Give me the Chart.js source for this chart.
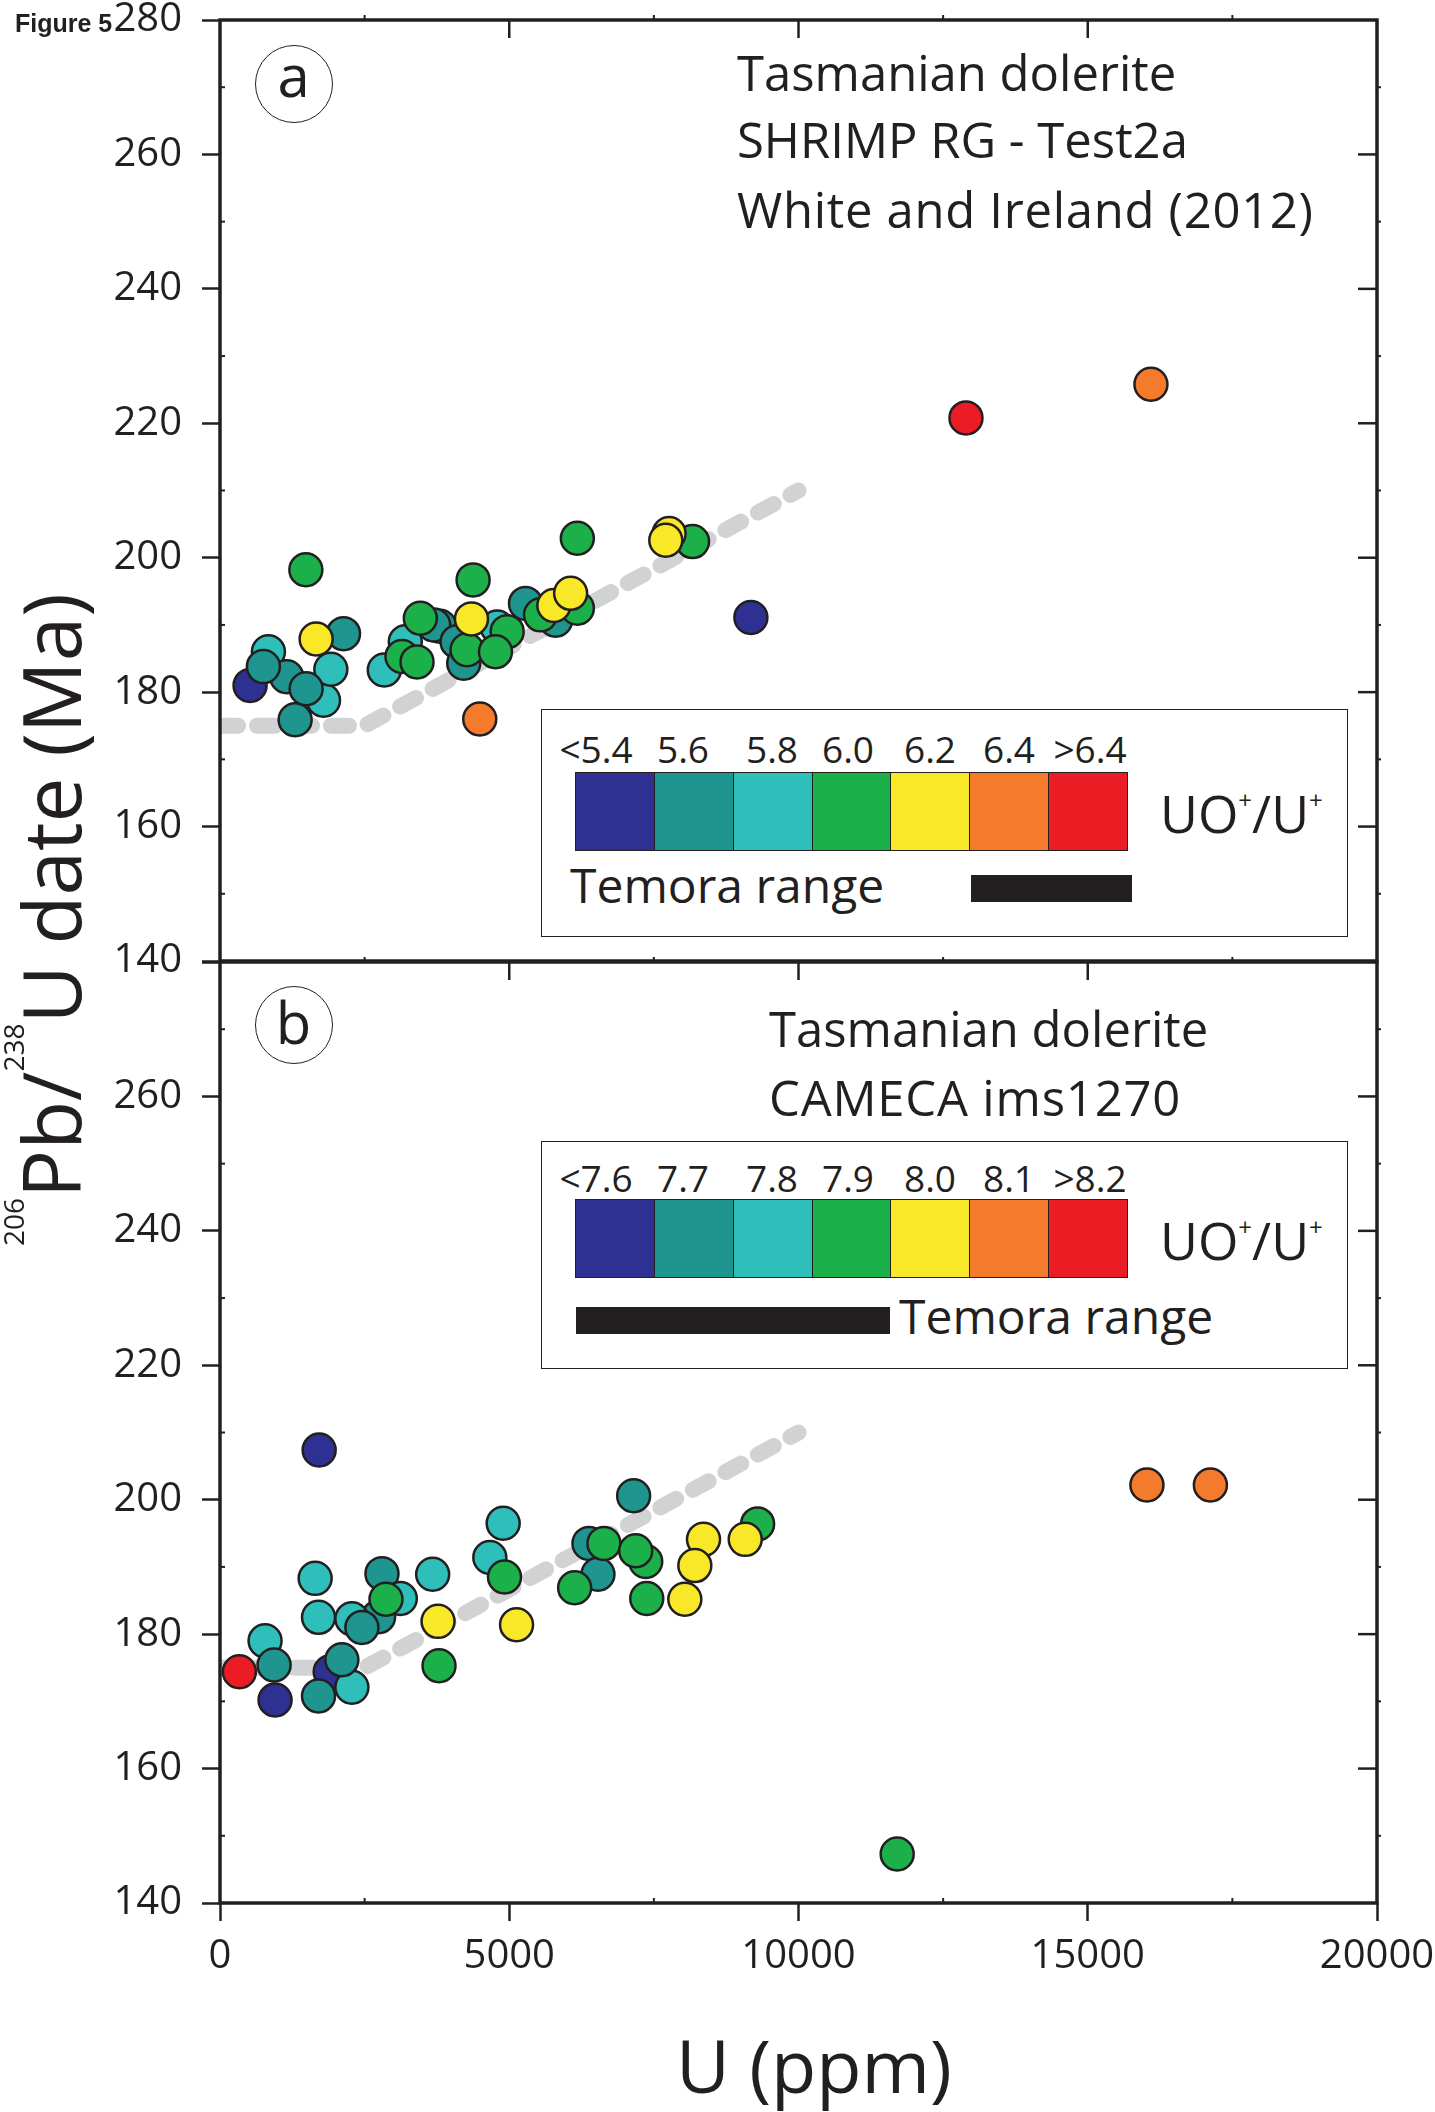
<!DOCTYPE html>
<html>
<head>
<meta charset="utf-8">
<script src="https://cdn.jsdelivr.net/npm/chart.js@4.4.0/dist/chart.umd.min.js"></script>
<style>
html,body{margin:0;padding:0;background:#fff;}
#wrap{position:relative;width:1435px;height:2112px;overflow:hidden;font-family:"Open Sans",sans-serif;color:#231F20;}
canvas{position:absolute;left:0;}
.t{position:absolute;line-height:1;white-space:nowrap;}
.box{position:absolute;box-sizing:border-box;}
</style>
</head>
<body>
<div id="wrap">
<canvas id="ca" width="1435" height="1000" style="top:0;width:1435px;height:1000px"></canvas>
<canvas id="cb" width="1435" height="1170" style="top:942px;width:1435px;height:1170px"></canvas>
</div>
<script>
// ---------- data ----------
// UO+/U+ class index: 0 lowest ... 6 highest
const classLabelsA = ['<5.4','5.6','5.8','6.0','6.2','6.4','>6.4'];
const classLabelsB = ['<7.6','7.7','7.8','7.9','8.0','8.1','>8.2'];

// Panel a : SHRIMP RG - Test2a
const aU   = [520, 837, 1154, 750, 1299, 1789, 2135, 1916, 1489, 1662, 1484, 2840, 3203, 3146, 3406, 3800, 3694, 3463, 4375, 4098, 4213, 4271, 4791, 4964, 4762, 4347, 5281, 5801, 5541, 6177, 5771, 6061, 6177, 8168, 7763, 7706, 9177, 4490, 12895, 16092];
const aAge = [181.0, 186.0, 182.3, 183.8, 175.9, 178.8, 188.7, 183.4, 180.5, 187.9, 198.2, 183.3, 187.5, 185.3, 184.5, 189.8, 190.0, 191.0, 196.7, 187.5, 184.3, 186.3, 189.7, 189.0, 186.0, 190.9, 193.2, 190.7, 191.5, 192.5, 192.9, 194.7, 202.9, 202.4, 203.6, 202.6, 191.1, 176.0, 220.8, 225.8];
const aClass = [0, 2, 1, 1, 1, 2, 1, 2, 1, 4, 3, 2, 2, 3, 3, 1, 1, 3, 3, 1, 1, 3, 2, 3, 3, 4, 1, 1, 3, 3, 4, 4, 3, 3, 4, 4, 0, 5, 6, 5];

// Panel b : CAMECA ims1270
const bU   = [335, 779, 952, 935, 1905, 2280, 1703, 2107, 1714, 1645, 1703, 2800, 3117, 2742, 2280, 2453, 2869, 3676, 3769, 3786, 4895, 4664, 4918, 5126, 6378, 6533, 6637, 6130, 7150, 7359, 7186, 7377, 8358, 8208, 8035, 9293, 9079, 11706, 16023, 17120];
const bAge = [174.4, 179.0, 170.2, 175.4, 174.4, 172.1, 170.8, 176.2, 207.4, 188.3, 182.5, 189.0, 185.3, 182.6, 182.3, 181.0, 185.2, 188.9, 181.9, 175.3, 196.5, 191.4, 188.5, 181.4, 193.5, 188.9, 193.5, 186.9, 200.6, 190.8, 192.4, 185.3, 194.1, 190.2, 185.2, 196.4, 194.1, 147.3, 202.2, 202.2];
const bClass = [6, 2, 0, 1, 0, 2, 1, 1, 0, 2, 2, 1, 2, 1, 2, 1, 3, 2, 4, 3, 2, 2, 3, 4, 1, 1, 3, 3, 1, 3, 3, 3, 4, 4, 4, 3, 4, 3, 5, 5];

// grey dashed reference trend
const trendU   = [0, 2500, 10000];
const trendAge = [175, 175, 210];

// axis ticks
const ageMajor = [140, 160, 180, 200, 220, 240, 260, 280];
const ageMinor = [150, 170, 190, 210, 230, 250, 270];
const uMajor = [0, 5000, 10000, 15000, 20000];
const uMinor = [2500, 7500, 12500, 17500];

// ---------- styles ----------
const PALETTE = ['#2E3192','#1F9590','#2FBFBA','#1CB04B','#F8E828','#F47B2B','#EC1C24'];
const INK = '#231F20';

const framePlugin = {
  id: 'frame',
  afterDraw(chart) {
    const {ctx, chartArea, scales} = chart;
    const {left, right, top, bottom} = chartArea;
    const x = scales.x, y = scales.y;
    const isB = chart.canvas.id === 'cb';
    ctx.save();
    ctx.strokeStyle = INK;
    ctx.lineCap = 'butt';
    const line = (x1, y1, x2, y2) => { ctx.beginPath(); ctx.moveTo(x1, y1); ctx.lineTo(x2, y2); ctx.stroke(); };
    ctx.lineWidth = 2.5;
    for (const v of ageMajor) {
      if (v > 140 && v < 280) { const py = y.getPixelForValue(v); line(right, py, right - 19, py); }
    }
    ctx.lineWidth = 2;
    for (const v of ageMinor) {
      const py = y.getPixelForValue(v);
      line(left, py, left + 5, py);
      line(right, py, right + 4, py);
    }
    ctx.lineWidth = 2.5;
    for (const u of uMajor) {
      if (u > 0 && u < 20000) { const px = x.getPixelForValue(u); line(px, top, px, top + 18); }
    }
    ctx.lineWidth = 2;
    for (const u of uMinor) {
      const px = x.getPixelForValue(u);
      line(px, top, px, top - 5);
      if (isB) line(px, bottom, px, bottom - 5);
    }
    ctx.lineWidth = 3.5;
    ctx.strokeRect(left, top, right - left, bottom - top);
    ctx.restore();
  }
};

function makePanel(id, U, Age, Cls, showX, hideTop) {
  const pts = U.map((u, i) => ({x: u, y: Age[i]}));
  const trend = trendU.map((u, i) => ({x: u, y: trendAge[i]}));
  return new Chart(document.getElementById(id), {
    type: 'scatter',
    data: {
      datasets: [
        {type: 'scatter', data: pts, order: 1, pointRadius: 16.5, pointHoverRadius: 16.5,
         pointBackgroundColor: Cls.map(c => PALETTE[c]), pointBorderColor: INK, pointBorderWidth: 2.5},
        {type: 'line', data: trend, order: 2, showLine: true, borderColor: '#D1D2D4', borderWidth: 16,
         borderDash: [18, 19], borderCapStyle: 'round', borderJoinStyle: 'round', pointRadius: 0, fill: false, tension: 0}
      ]
    },
    options: {
      responsive: false, animation: false, devicePixelRatio: 1, events: [],
      layout: {padding: {top: 20, right: 58, left: 0, bottom: showX ? 0 : 39}},
      plugins: {legend: {display: false}, tooltip: {enabled: false}},
      scales: {
        x: {
          type: 'linear', position: 'bottom', min: 0, max: 20000, display: showX,
          ticks: {stepSize: 5000, autoSkip: false, maxRotation: 0, minRotation: 0, padding: 16, color: INK,
                  font: {family: 'Open Sans', size: 40, lineHeight: 1}, callback: v => String(v)},
          grid: {drawOnChartArea: false, drawTicks: true, tickLength: 18, tickWidth: 2.5, tickColor: INK},
          border: {display: false},
          afterFit: s => {
            if (showX) s.height = 209; else s.height = 0;
            s.paddingLeft = 0; s.paddingRight = 0;
          }
        },
        y: {
          type: 'linear', position: 'left', min: 140, max: 280,
          ticks: {stepSize: 20, autoSkip: false, padding: 20, color: INK,
                  font: {family: 'Open Sans', size: 40, lineHeight: 1},
                  callback: v => (hideTop && v === 280) ? '' : String(v)},
          grid: {drawOnChartArea: false, drawTicks: true, tickLength: 18, tickWidth: 2.5, tickColor: INK},
          border: {display: false},
          afterFit: s => { s.width = 220; s.paddingTop = 0; s.paddingBottom = 0; }
        }
      }
    },
    plugins: [framePlugin]
  });
}

makePanel('ca', aU, aAge, aClass, false, false);
makePanel('cb', bU, bAge, bClass, true, true);

// ---------- text & legend overlays ----------
const wrap = document.getElementById('wrap');
function place(d, x, base, align) {
  const m = document.createElement('span');
  m.style.cssText = 'display:inline-block;width:0;height:0;vertical-align:baseline;';
  d.appendChild(m);
  d.style.left = '0px'; d.style.top = '0px';
  wrap.appendChild(d);
  const r = d.getBoundingClientRect();
  const bl = m.getBoundingClientRect().top - r.top;
  d.style.top = (base - bl) + 'px';
  let lx = x;
  if (align === 'center') lx = x - r.width / 2;
  else if (align === 'right') lx = x - r.width;
  d.style.left = lx + 'px';
  return d;
}
function txt(s, x, base, size, align, family, weight, spacing) {
  const d = document.createElement('div');
  d.className = 't';
  d.style.fontSize = size + 'px';
  if (family) d.style.fontFamily = family;
  if (weight) d.style.fontWeight = weight;
  if (spacing) d.style.letterSpacing = spacing + 'px';
  d.textContent = s;
  return place(d, x, base, align);
}
function box(x, y, w, h, css) {
  const d = document.createElement('div');
  d.className = 'box';
  d.style.left = x + 'px'; d.style.top = y + 'px';
  d.style.width = w + 'px'; d.style.height = h + 'px';
  d.style.cssText += css;
  wrap.appendChild(d);
  return d;
}

txt('Figure 5', 15, 32, 25, 'left', '"Liberation Sans", Arial, sans-serif', 'bold');

// circled panel letters
box(254.5, 44.5, 78, 78, 'border:1.8px solid ' + INK + ';border-radius:50%;');
txt('a', 293.5, 97, 58, 'center');
box(254.5, 986, 78, 78, 'border:1.8px solid ' + INK + ';border-radius:50%;');
txt('b', 293.5, 1044, 58, 'center');

// panel annotations
txt('Tasmanian dolerite', 737, 91, 49);
txt('SHRIMP RG - Test2a', 737, 158, 49);
txt('White and Ireland (2012)', 737, 228, 49, 'left', null, null, 0.7);
txt('Tasmanian dolerite', 769, 1047, 49);
txt('CAMECA ims1270', 769, 1116, 49, 'left', null, null, 0.8);

// legends
const labelCenters = [596, 683, 772, 848, 930, 1009, 1090];
function legend(top, labels, labelBase, swTop, uoBase, temora) {
  box(541, top, 807, 228, 'border:1.5px solid ' + INK + ';background:#fff;');
  const sw = box(575, swTop, 553, 79, 'border:1.5px solid ' + INK + ';display:flex;');
  PALETTE.forEach((c, i) => {
    const cell = document.createElement('div');
    cell.style.cssText = 'flex:1;height:100%;box-sizing:border-box;background:' + c + ';' + (i ? 'border-left:1.5px solid ' + INK + ';' : '');
    sw.appendChild(cell);
  });
  labels.forEach((s, i) => txt(s, labelCenters[i], labelBase, 37, 'center'));
  const u = document.createElement('div');
  u.className = 't';
  u.style.fontSize = '52px';
  u.innerHTML = 'UO<span style="font-size:24px;position:relative;top:-24px">+</span>/U<span style="font-size:24px;position:relative;top:-24px">+</span>';
  place(u, 1160, uoBase, 'left');
  box(temora.bx, temora.by, temora.bw, 27, 'background:' + INK + ';');
  txt('Temora range', temora.tx, temora.tb, 48);
}
legend(709, classLabelsA, 763, 772, 833, {bx: 971, by: 875, bw: 161, tx: 570, tb: 903});
legend(1141, classLabelsB, 1192, 1199, 1260, {bx: 576, by: 1307, bw: 314, tx: 899, tb: 1334});

// axis titles
txt('U (ppm)', 814, 2093, 74, 'center');
(function () {
  const d = document.createElement('div');
  d.className = 't';
  d.style.fontSize = '80px';
  d.innerHTML = '<span style="font-size:28px;position:relative;top:-57px">206</span>Pb/<span style="font-size:28px;position:relative;top:-57px">238</span>U date (Ma)';
  const m = document.createElement('span');
  m.style.cssText = 'display:inline-block;width:0;height:0;vertical-align:baseline;';
  d.appendChild(m);
  d.style.left = '0px'; d.style.top = '0px';
  wrap.appendChild(d);
  const r = d.getBoundingClientRect();
  const bl = m.getBoundingClientRect().top - r.top;
  d.style.transformOrigin = '0 0';
  d.style.transform = 'rotate(-90deg)';
  d.style.left = (81 - bl) + 'px';
  d.style.top = (920 + r.width / 2) + 'px';
})();
</script>
</body>
</html>
